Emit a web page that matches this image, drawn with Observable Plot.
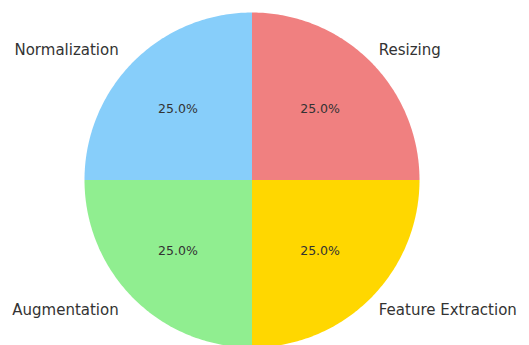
<!DOCTYPE html>
<html><head><meta charset="utf-8">
<script src="https://cdn.jsdelivr.net/npm/d3@7"></script>
<script src="https://cdn.jsdelivr.net/npm/@observablehq/plot@0.6"></script>
<style>body{margin:0;background:#fff;font-family:"DejaVu Sans",sans-serif}</style>
</head><body><div id="chart"></div>
<script>
const categories = ["Resizing", "Normalization", "Augmentation", "Feature Extraction"];
const values = [25, 25, 25, 25];
const colors = ["#F08080", "#87CEFA", "#90EE90", "#FFD700"];

const total = d3.sum(values);
let acc = 0;
const wedges = categories.map((c, i) => {
  const a0 = acc / total * 2 * Math.PI;
  acc += values[i];
  const a1 = acc / total * 2 * Math.PI;
  return {cat: c, value: values[i], a0, a1, mid: (a0 + a1) / 2};
});
const pts = [];
for (const w of wedges) {
  pts.push({cat: w.cat, x: 0, y: 0});
  const n = 120;
  for (let k = 0; k <= n; k++) {
    const a = w.a0 + (w.a1 - w.a0) * k / n;
    pts.push({cat: w.cat, x: Math.cos(a), y: Math.sin(a)});
  }
  pts.push({cat: w.cat, x: 0, y: 0});
}
const labels = wedges.map(w => ({
  text: w.cat, x: 1.1 * Math.cos(w.mid), y: 1.1 * Math.sin(w.mid),
  anchor: Math.cos(w.mid) >= 0 ? "start" : "end"
}));
const pcts = wedges.map(w => ({
  text: (w.value / total * 100).toFixed(1) + "%",
  x: 0.6 * Math.cos(w.mid), y: 0.6 * Math.sin(w.mid)
}));

const cx = 251.5, cy = 179.5, r = 167.5;
const chart = Plot.plot({
  width: 529, height: 345,
  margin: 0,
  x: {domain: [-1, 1], range: [cx - r, cx + r], axis: null},
  y: {domain: [-1, 1], range: [cy + r, cy - r], axis: null},
  color: {domain: categories, range: colors},
  style: {fontFamily: "DejaVu Sans", background: "#fff", overflow: "visible"},
  marks: [
    Plot.line(pts, {x: "x", y: "y", z: "cat", fill: "cat", stroke: "none", curve: "linear"}),
    Plot.text(labels.filter(d => d.anchor === "start"), {x: "x", y: "y", text: "text", textAnchor: "start", fontSize: 15, fill: "#333", dx: -3.5}),
    Plot.text(labels.filter(d => d.anchor === "end"), {x: "x", y: "y", text: "text", textAnchor: "end", fontSize: 15, fill: "#333", dx: -3}),
    Plot.text(pcts, {x: "x", y: "y", text: "text", fontSize: 12.5, fill: "#333", dx: -3})
  ]
});
document.getElementById("chart").appendChild(chart);
</script></body></html>
